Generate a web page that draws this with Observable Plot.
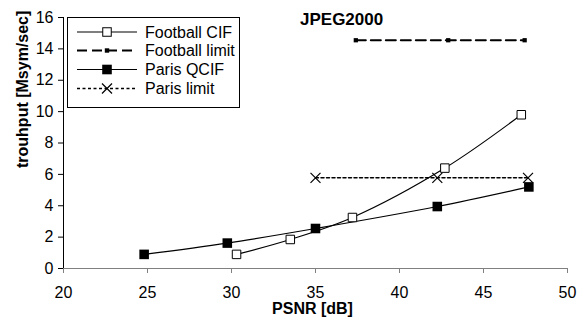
<!DOCTYPE html>
<html>
<head>
<meta charset="utf-8">
<script src="https://cdn.jsdelivr.net/npm/d3@7"></script>
<script src="https://cdn.jsdelivr.net/npm/@observablehq/plot@0.6"></script>
<style>
  html, body { margin: 0; padding: 0; background: #fff; }
  #wrap { position: relative; width: 581px; height: 322px; }
  #wrap svg { display: block; }
  #overlay { position: absolute; left: 0; top: 0; pointer-events: none; }
</style>
</head>
<body>
<div id="wrap"></div>
<script>
// ---- data ----
const title = "JPEG2000";
const xLabel = "PSNR [dB]";
const yLabel = "trouhput [Msym/sec]";
const xTicks = [20, 25, 30, 35, 40, 45, 50];
const yTicks = [0, 2, 4, 6, 8, 10, 12, 14, 16];

const seriesNames = ["Football CIF", "Football limit", "Paris QCIF", "Paris limit"];

const footballPsnr = [30.3, 33.5, 37.2, 42.7, 47.25];
const footballRate = [0.9, 1.85, 3.25, 6.4, 9.8];

const footballLimitPsnr = [37.4, 42.9, 47.45];
const footballLimitRate = [14.55, 14.55, 14.55];

const parisPsnr = [24.8, 29.75, 35.0, 42.25, 47.7];
const parisRate = [0.9, 1.62, 2.55, 3.95, 5.2];

const parisLimitPsnr = [35.0, 42.25, 47.65];
const parisLimitRate = [5.78, 5.78, 5.78];

const toRows = (xs, ys) => xs.map((x, i) => ({x, y: ys[i]}));
const football = toRows(footballPsnr, footballRate);
const footballLimit = toRows(footballLimitPsnr, footballLimitRate);
const paris = toRows(parisPsnr, parisRate);
const parisLimit = toRows(parisLimitPsnr, parisLimitRate);

const font = "Liberation Sans, Arial, sans-serif";

const chart = Plot.plot({
  width: 581,
  height: 322,
  marginLeft: 63,
  marginRight: 14,
  marginTop: 17,
  marginBottom: 54,
  style: {fontFamily: font, fontSize: "16px", background: "#fff", color: "#000"},
  x: {domain: [20, 50]},
  y: {domain: [0, 16]},
  marks: [
    Plot.axisX({ticks: xTicks, tickSize: 5, tickPadding: 13.5, fontSize: 16, label: null, stroke: "#808080", fill: "#000"}),
    Plot.axisY({ticks: yTicks, tickSize: 5, tickPadding: 5, fontSize: 16, label: null, stroke: "#000", fill: "#000"}),
    Plot.ruleY([0], {stroke: "#808080", strokeWidth: 1}),
    Plot.ruleX([20], {stroke: "#000", strokeWidth: 1}),
    // Football limit
    Plot.line(footballLimit, {x: "x", y: "y", stroke: "#000", strokeWidth: 2, strokeDasharray: "10,5"}),
    Plot.dot(footballLimit, {x: "x", y: "y", symbol: "square", r: 2.4, fill: "#000", stroke: "none"}),
    // Paris limit
    Plot.line(parisLimit, {x: "x", y: "y", stroke: "#000", strokeWidth: 1.5, strokeDasharray: "3,2.5"}),
    Plot.dot(parisLimit, {x: "x", y: "y", symbol: "times", r: 4.6, stroke: "#000", strokeWidth: 1.2}),
    // Paris QCIF
    Plot.line(paris, {x: "x", y: "y", stroke: "#000", strokeWidth: 1.2, curve: "catmull-rom"}),
    Plot.dot(paris, {x: "x", y: "y", symbol: "square", r: 5.4, fill: "#000", stroke: "none"}),
    // Football CIF
    Plot.line(football, {x: "x", y: "y", stroke: "#000", strokeWidth: 1.2, curve: "catmull-rom"}),
    Plot.dot(football, {x: "x", y: "y", symbol: "square", r: 4.8, fill: "#fff", stroke: "#000", strokeWidth: 1}),
    // axis labels
    Plot.text([xLabel], {frameAnchor: "bottom", lineAnchor: "top", dx: -3, dy: 34.5, fontWeight: "bold", fontSize: 16, fill: "#000"}),
    Plot.text([yLabel], {frameAnchor: "left", rotate: -90, lineAnchor: "middle", dx: -41, dy: 25, fontWeight: "bold", fontSize: 16, fill: "#000"})
  ]
});

const wrap = document.getElementById("wrap");
wrap.appendChild(chart);

// ---- legend + title overlay ----
const ov = d3.select(wrap).append("svg")
  .attr("id", "overlay")
  .attr("width", 581).attr("height", 322)
  .style("font-family", font);

ov.append("text")
  .attr("x", 300).attr("y", 25)
  .attr("font-size", 17).attr("font-weight", "bold")
  .text(title);

const lg = ov.append("g");
lg.append("rect")
  .attr("x", 67.5).attr("y", 17.5).attr("width", 172).attr("height", 90)
  .attr("fill", "#fff").attr("stroke", "#000").attr("stroke-width", 1);

const rowY = [32, 50.5, 69.5, 88.5];
const styles = [
  {dash: null, width: 1.2, marker: "openSquare"},
  {dash: "10,5", width: 2, marker: "smallSquare"},
  {dash: null, width: 1.2, marker: "filledSquare"},
  {dash: "3,2.5", width: 1.5, marker: "times"}
];
seriesNames.forEach((name, i) => {
  const y = rowY[i], s = styles[i];
  const ln = lg.append("line")
    .attr("x1", 77).attr("x2", 137).attr("y1", y).attr("y2", y)
    .attr("stroke", "#000").attr("stroke-width", s.width);
  if (s.dash) ln.attr("stroke-dasharray", s.dash);
  const cx = 107;
  if (s.marker === "openSquare") {
    lg.append("rect").attr("x", cx - 4.25).attr("y", y - 4.25).attr("width", 8.5).attr("height", 8.5)
      .attr("fill", "#fff").attr("stroke", "#000");
  } else if (s.marker === "filledSquare") {
    lg.append("rect").attr("x", cx - 4.8).attr("y", y - 4.8).attr("width", 9.6).attr("height", 9.6).attr("fill", "#000");
  } else if (s.marker === "smallSquare") {
    lg.append("rect").attr("x", cx - 2.2).attr("y", y - 2.2).attr("width", 4.4).attr("height", 4.4).attr("fill", "#000");
  } else if (s.marker === "times") {
    lg.append("path").attr("d", `M${cx-5},${y-5}L${cx+5},${y+5}M${cx-5},${y+5}L${cx+5},${y-5}`)
      .attr("stroke", "#000").attr("stroke-width", 1.2);
  }
  lg.append("text").attr("x", 145).attr("y", y + 5.6).attr("font-size", 16).text(name);
});
</script>
</body>
</html>
